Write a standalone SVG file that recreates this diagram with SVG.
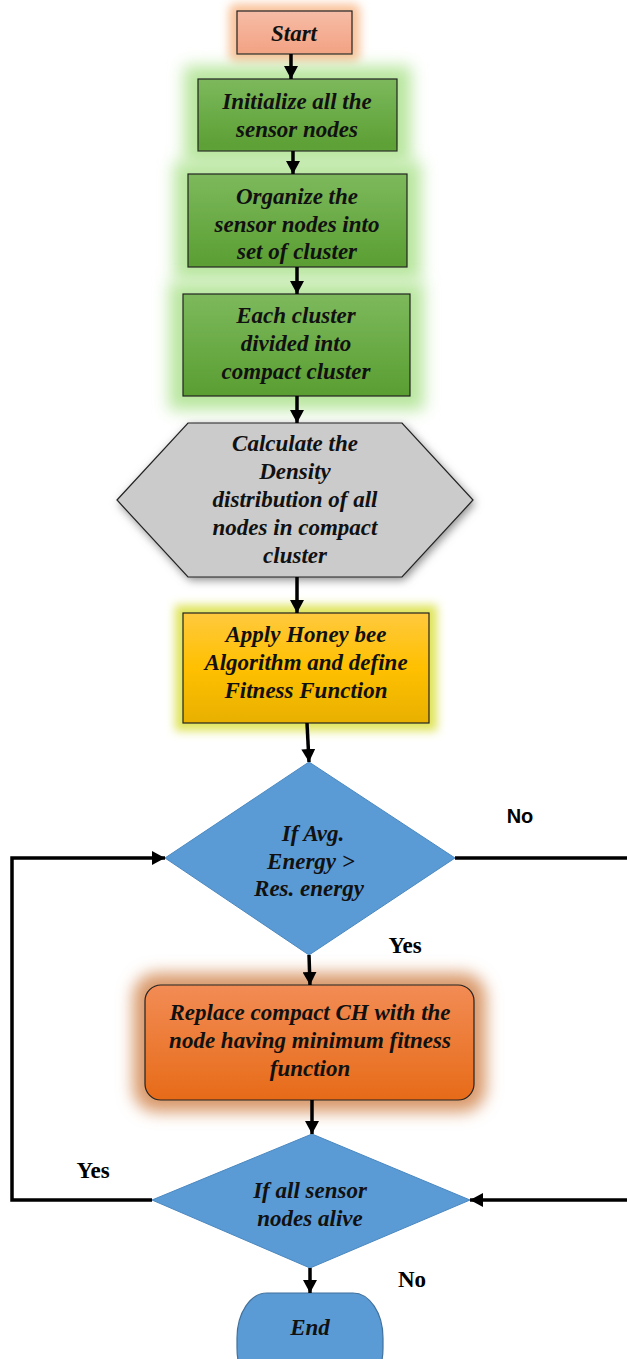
<svg xmlns="http://www.w3.org/2000/svg" width="627" height="1359" viewBox="0 0 627 1359">
<style>
.t{font-family:"Liberation Serif","Times New Roman",serif;font-weight:bold;font-style:italic;font-size:23px;fill:#111;text-anchor:middle}
.lb{font-family:"Liberation Serif","Times New Roman",serif;font-weight:bold;font-size:23px;fill:#000;text-anchor:middle}
.ls{font-family:"Liberation Sans",Arial,sans-serif;font-weight:bold;font-size:20px;fill:#000;text-anchor:middle}
.c{stroke:#000;stroke-width:3.5;fill:none}
.b{stroke:#222;stroke-width:1.2}
</style>
<defs>
<marker id="ah" markerUnits="userSpaceOnUse" markerWidth="14" markerHeight="14" refX="13" refY="7" orient="auto"><path d="M0,0 L13,7 L0,14 z" fill="#000"/></marker>
<filter id="blur" x="-50%" y="-50%" width="200%" height="200%"><feGaussianBlur stdDeviation="8"/></filter>
<filter id="blur2" x="-50%" y="-50%" width="200%" height="200%"><feGaussianBlur stdDeviation="5"/></filter>
<linearGradient id="gs" x1="0" y1="0" x2="0" y2="1"><stop offset="0" stop-color="#f6bca6"/><stop offset="1" stop-color="#f3a283"/></linearGradient>
<linearGradient id="gg" x1="0" y1="0" x2="0" y2="1"><stop offset="0" stop-color="#7db95c"/><stop offset="1" stop-color="#5a9e32"/></linearGradient>
<linearGradient id="gy" x1="0" y1="0" x2="0" y2="1"><stop offset="0" stop-color="#ffc93e"/><stop offset="0.5" stop-color="#ffc000"/><stop offset="1" stop-color="#e8b000"/></linearGradient>
<linearGradient id="go" x1="0" y1="0" x2="0" y2="1"><stop offset="0" stop-color="#f28c55"/><stop offset="1" stop-color="#e76b18"/></linearGradient>
</defs>
<rect width="627" height="1359" fill="#fff"/>

<g id="start">
<rect x="229" y="4" width="131" height="58" rx="6" fill="#f9c29a" filter="url(#blur2)"/>
<rect class="b" x="237" y="11" width="115" height="43" fill="url(#gs)"/>
<text class="t" x="294" y="41">Start</text>
</g>

<g id="init">
<rect x="184" y="66" width="227" height="98" fill="#b8e69e" filter="url(#blur)"/>
<rect class="b" x="198" y="79" width="199" height="72" fill="url(#gg)"/>
<text class="t" x="297" y="109">Initialize all the</text>
<text class="t" x="297" y="137">sensor nodes</text>
</g>

<g id="organize">
<rect x="174" y="162" width="247" height="118" fill="#b8e69e" filter="url(#blur)"/>
<rect class="b" x="188" y="174" width="219" height="93" fill="url(#gg)"/>
<text class="t" x="297" y="204">Organize the</text>
<text class="t" x="297" y="232">sensor nodes into</text>
<text class="t" x="297" y="259">set of cluster</text>
</g>

<g id="each">
<rect x="169" y="282" width="255" height="128" fill="#b8e69e" filter="url(#blur)"/>
<rect class="b" x="183" y="294" width="227" height="102" fill="url(#gg)"/>
<text class="t" x="296" y="323">Each cluster</text>
<text class="t" x="296" y="351">divided into</text>
<text class="t" x="296" y="379">compact cluster</text>
</g>

<g id="density">
<polygon points="117,500 188,423 402,423 473,500 402,577 188,577" fill="#888" filter="url(#blur2)" transform="translate(2,3)"/>
<polygon class="b" points="117,500 188,423 402,423 473,500 402,577 188,577" fill="#cbcbcb"/>
<text class="t" x="295" y="451">Calculate the</text>
<text class="t" x="295" y="479">Density</text>
<text class="t" x="295" y="507">distribution of all</text>
<text class="t" x="295" y="535">nodes in compact</text>
<text class="t" x="295" y="563">cluster</text>
</g>

<g id="honeybee">
<rect x="175" y="605" width="262" height="126" fill="#dfe45a" filter="url(#blur2)"/>
<rect class="b" x="183" y="613" width="246" height="110" fill="url(#gy)"/>
<text class="t" x="306" y="642">Apply Honey bee</text>
<text class="t" x="306" y="670">Algorithm and define</text>
<text class="t" x="306" y="698">Fitness Function</text>
</g>

<g id="decision1">
<polygon points="165,858 309,762 455,858 309,955" fill="#5b9bd5" stroke="#4a88c0" stroke-width="1"/>
<text class="t" x="313" y="841">If Avg.</text>
<text class="t" x="311" y="869">Energy &gt;</text>
<text class="t" x="309" y="896">Res. energy</text>
</g>

<g id="replace">
<rect x="133" y="973" width="353" height="139" rx="24" fill="#d9996a" filter="url(#blur)"/>
<rect class="b" x="145" y="985" width="329" height="115" rx="16" fill="url(#go)"/>
<text class="t" x="310" y="1020">Replace compact CH with the</text>
<text class="t" x="310" y="1048">node having minimum fitness</text>
<text class="t" x="310" y="1076">function</text>
</g>

<g id="decision2">
<polygon points="152,1200 312,1134 470,1200 310,1268" fill="#5b9bd5" stroke="#4a88c0" stroke-width="1"/>
<text class="t" x="310" y="1198">If all sensor</text>
<text class="t" x="310" y="1226">nodes alive</text>
</g>

<g id="end">
<rect x="237" y="1293" width="146" height="100" rx="30" ry="45" fill="#5b9bd5" stroke="#41719c" stroke-width="1.2"/>
<text class="t" x="310" y="1335">End</text>
</g>

<g id="connectors">
<line class="c" x1="291" y1="54" x2="291" y2="79" marker-end="url(#ah)"/>
<line class="c" x1="293" y1="151" x2="293" y2="174" marker-end="url(#ah)"/>
<line class="c" x1="297" y1="267" x2="297" y2="294" marker-end="url(#ah)"/>
<line class="c" x1="297" y1="396" x2="297" y2="423" marker-end="url(#ah)"/>
<line class="c" x1="297" y1="577" x2="297" y2="613" marker-end="url(#ah)"/>
<line class="c" x1="307" y1="723" x2="309" y2="762" marker-end="url(#ah)"/>
<line class="c" x1="309" y1="955" x2="310" y2="985" marker-end="url(#ah)"/>
<line class="c" x1="312" y1="1100" x2="312" y2="1134" marker-end="url(#ah)"/>
<line class="c" x1="310" y1="1268" x2="310" y2="1293" marker-end="url(#ah)"/>
<polyline class="c" points="455,858 630,858"/>
<line class="c" x1="630" y1="1200" x2="470" y2="1200" marker-end="url(#ah)"/>
<polyline class="c" points="152,1200 12,1200 12,858 165,858" marker-end="url(#ah)"/>
</g>

<g id="labels">
<text class="ls" x="520" y="823">No</text>
<text class="lb" x="405" y="953">Yes</text>
<text class="lb" x="93" y="1178">Yes</text>
<text class="lb" x="412" y="1287">No</text>
</g>
</svg>
